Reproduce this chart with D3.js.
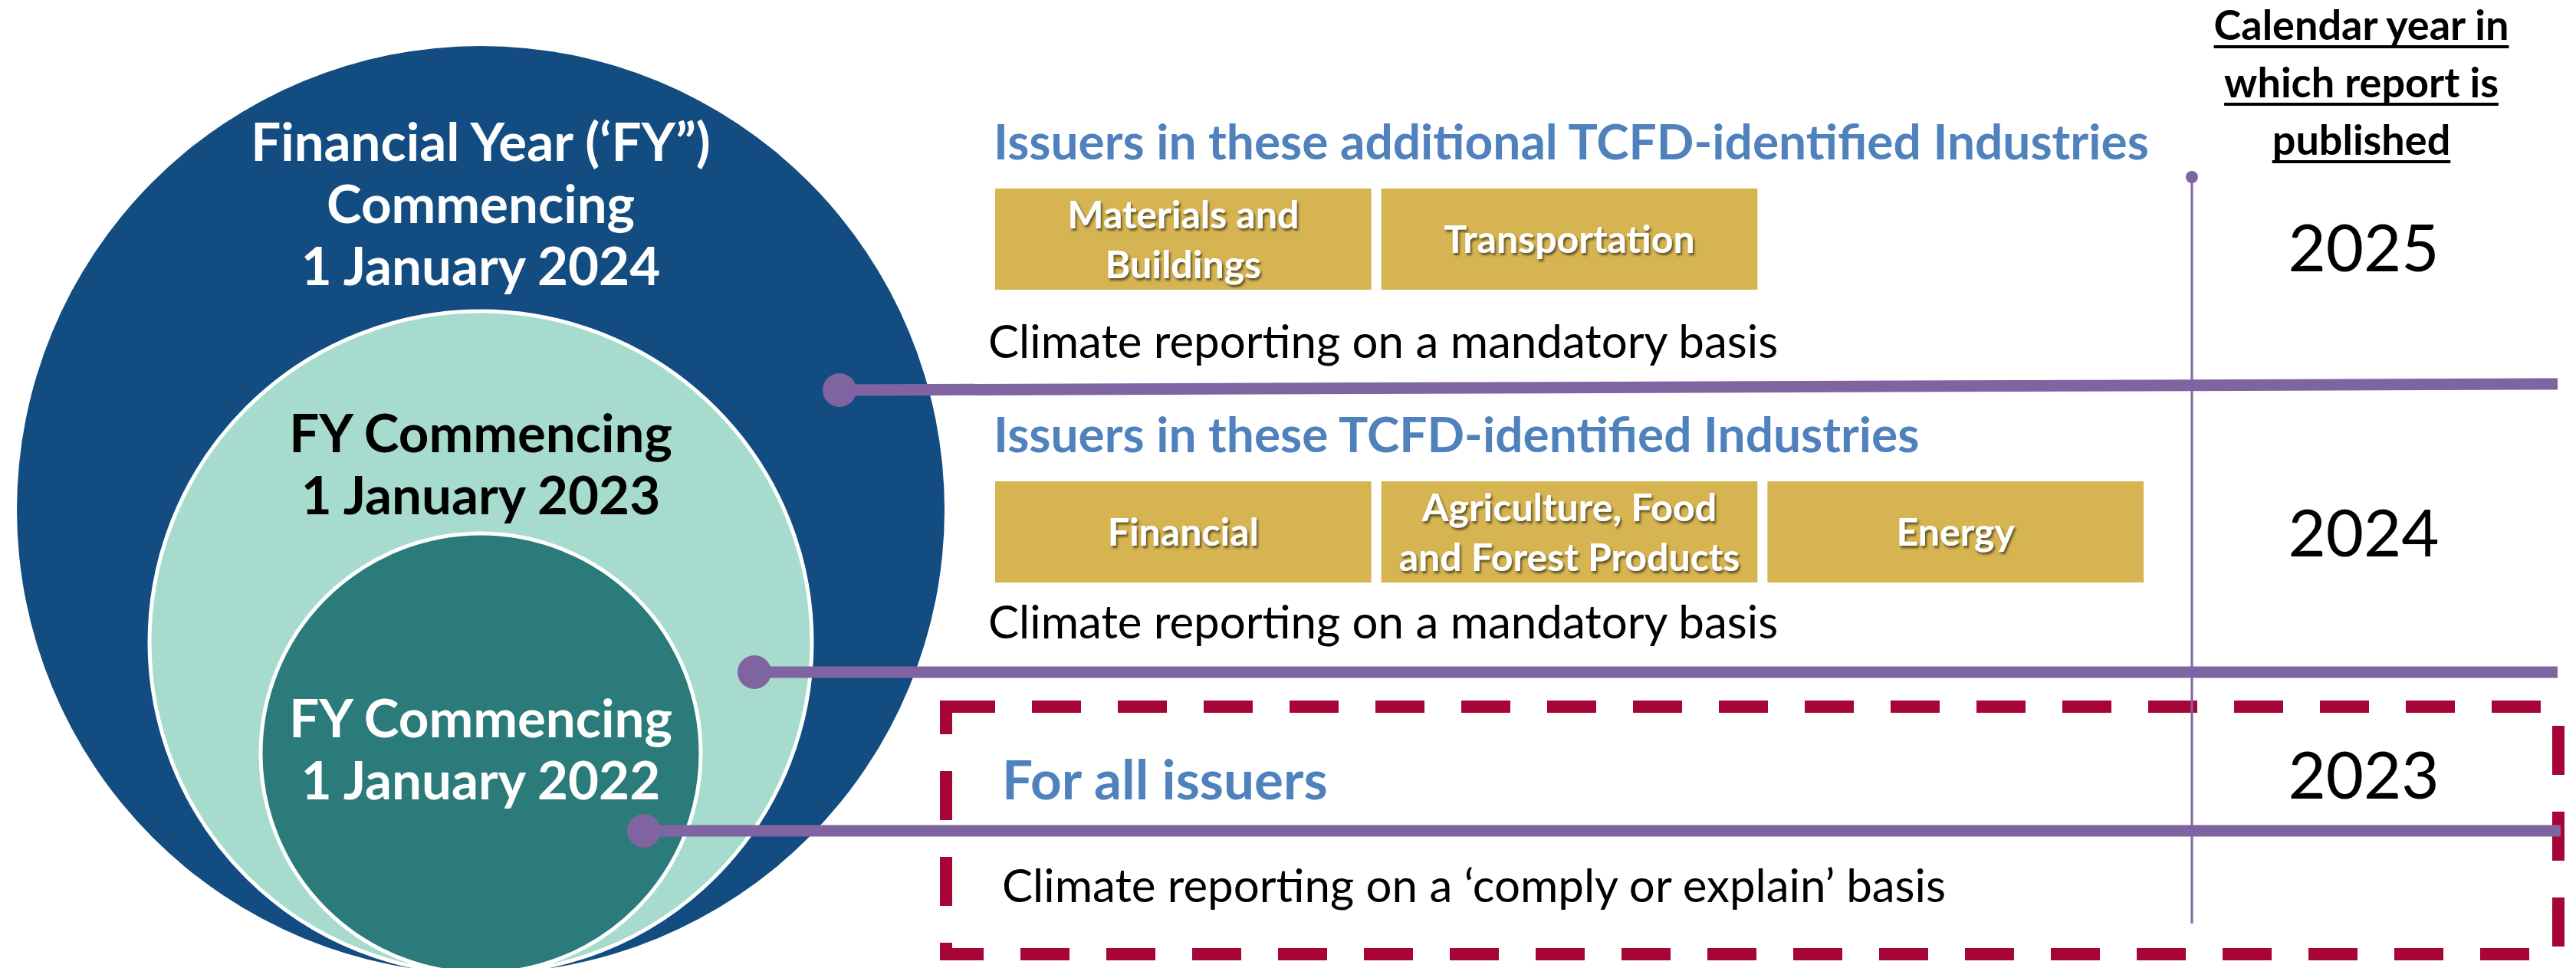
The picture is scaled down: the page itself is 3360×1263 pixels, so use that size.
<!DOCTYPE html>
<html>
<head>
<meta charset="utf-8">
<script src="https://cdn.jsdelivr.net/npm/d3@7"></script>
<style>
  html, body { margin: 0; padding: 0; background: #fff; }
  svg { display: block; }
</style>
</head>
<body>
<script>
// chart data
var fyTitles = [["Financial Year (‘FY”)", "Commencing"], ["FY Commencing"], ["FY Commencing"]];
var fyStart = ["1 January 2024", "1 January 2023", "1 January 2022"];
var reportYears = ["2025", "2024", "2023"];
var scopeHeadings = [
    "Issuers in these additional TCFD-identified Industries",
    "Issuers in these TCFD-identified Industries",
    "For all issuers"
];
var industries = [
    [["Materials and", "Buildings"], ["Transportation"]],
    [["Financial"], ["Agriculture, Food", "and Forest Products"], ["Energy"]],
    []
];
var reportingBasis = [
    "Climate reporting on a mandatory basis",
    "Climate reporting on a mandatory basis",
    "Climate reporting on a ‘comply or explain’ basis"
];
var yearHeader = ["Calendar year in", "which report is", "published"];

// layout
var W = 3360, H = 1263;
var font = "Lato, 'Open Sans', sans-serif";
var circleFill = ["#124C81", "#A7DBCE", "#2A7B79"];
var circleText = ["#ffffff", "#000000", "#ffffff"];
var rScale = d3.scaleOrdinal().domain([0, 1, 2]).range([605, 432, 287]);
var cx = 627, bottom = 1270;
var circleTextTop = [210, 590, 962];
var lineGap = 81;

var rows = [
    { head: 208, headX: 1296, headSize: 64, box: 246, basis: 467, basisX: 1289, dot: [1095, 509], end: [3336, 501], year: 354 },
    { head: 590, headX: 1296, headSize: 64, box: 628, basis: 833, basisX: 1289, dot: [984, 877], end: [3336, 877], year: 726 },
    { head: 1043, headX: 1307, headSize: 71, box: null, basis: 1177, basisX: 1307, dot: [840, 1084], end: [3340, 1084], year: 1042 }
];
var xBox = d3.scaleBand().domain([0, 1, 2]).range([1298, 2796]).paddingInner(0.026);
var boxH = 132;

var purple = "#8064A2";

var svg = d3.select("body").append("svg")
    .attr("width", W)
    .attr("height", H);

var defs = svg.append("defs");
var shadow = defs.append("filter").attr("id", "shadow")
    .attr("x", "-10%").attr("y", "-20%").attr("width", "120%").attr("height", "140%");
shadow.append("feDropShadow")
    .attr("dx", 2).attr("dy", 3).attr("stdDeviation", 1.5)
    .attr("flood-color", "#000").attr("flood-opacity", 0.55);

// nested circles
var tiers = svg.append("g").selectAll("g")
    .data(fyStart)
    .enter().append("g");

tiers.append("circle")
    .attr("cx", cx)
    .attr("cy", function(d, i) { return bottom - rScale(i); })
    .attr("r", function(d, i) { return rScale(i); })
    .attr("fill", function(d, i) { return circleFill[i]; })
    .attr("stroke", function(d, i) { return i === 0 ? "none" : "#fff"; })
    .attr("stroke-width", 5);

tiers.each(function(d, i) {
    var lines = fyTitles[i].concat([d]);
    d3.select(this).selectAll("text")
        .data(lines)
        .enter().append("text")
        .attr("x", cx)
        .attr("y", function(t, j) { return circleTextTop[i] + j * lineGap; })
        .attr("text-anchor", "middle")
        .attr("font-family", font)
        .attr("font-weight", 700)
        .attr("font-size", 69)
        .attr("fill", circleText[i])
        .text(function(t) { return t; });
});

// dashed box round the 'comply or explain' row
svg.append("rect")
    .attr("x", 1234)
    .attr("y", 922)
    .attr("width", 2103)
    .attr("height", 323)
    .attr("fill", "none")
    .attr("stroke", "#A80537")
    .attr("stroke-width", 16)
    .attr("stroke-dasharray", "64 48");

// vertical divider
svg.append("line")
    .attr("x1", 2859).attr("x2", 2859)
    .attr("y1", 231).attr("y2", 1205)
    .attr("stroke", purple)
    .attr("stroke-width", 3);
svg.append("circle")
    .attr("cx", 2859).attr("cy", 231).attr("r", 8)
    .attr("fill", purple);

// connectors
var line = d3.line();
var conn = svg.append("g").selectAll("g")
    .data(rows)
    .enter().append("g");
conn.append("path")
    .attr("d", function(r) { return line([r.dot, r.end]); })
    .attr("stroke", purple)
    .attr("stroke-width", 15)
    .attr("fill", "none");
conn.append("circle")
    .attr("cx", function(r) { return r.dot[0]; })
    .attr("cy", function(r) { return r.dot[1]; })
    .attr("r", 22)
    .attr("fill", purple);

// headings
svg.append("g").selectAll("text")
    .data(scopeHeadings)
    .enter().append("text")
    .attr("x", function(d, i) { return rows[i].headX; })
    .attr("y", function(d, i) { return rows[i].head; })
    .attr("font-family", font)
    .attr("font-weight", 700)
    .attr("font-size", function(d, i) { return rows[i].headSize; })
    .attr("fill", "#4F81BD")
    .text(function(d) { return d; });

// industry boxes
industries.forEach(function(list, i) {
    if (!list.length) return;
    var g = svg.append("g");
    var cells = g.selectAll("g")
        .data(list)
        .enter().append("g");
    cells.append("rect")
        .attr("x", function(d, j) { return xBox(j); })
        .attr("y", rows[i].box)
        .attr("width", xBox.bandwidth())
        .attr("height", boxH)
        .attr("fill", "#D5B451");
    cells.each(function(d, j) {
        var mid = rows[i].box + boxH / 2;
        d3.select(this).selectAll("text")
            .data(d)
            .enter().append("text")
            .attr("x", xBox(j) + xBox.bandwidth() / 2)
            .attr("y", function(t, k) { return mid + 18 + (k - (d.length - 1) / 2) * 65; })
            .attr("text-anchor", "middle")
            .attr("font-family", font)
            .attr("font-weight", 700)
            .attr("font-size", 50)
            .attr("fill", "#fff")
            .attr("filter", "url(#shadow)")
            .text(function(t) { return t; });
    });
});

// reporting basis
svg.append("g").selectAll("text")
    .data(reportingBasis)
    .enter().append("text")
    .attr("x", function(d, i) { return rows[i].basisX; })
    .attr("y", function(d, i) { return rows[i].basis; })
    .attr("font-family", font)
    .attr("font-size", 60)
    .attr("fill", "#000")
    .text(function(d) { return d; });

// report years
svg.append("g").selectAll("text")
    .data(reportYears)
    .enter().append("text")
    .attr("x", 3083)
    .attr("y", function(d, i) { return rows[i].year; })
    .attr("text-anchor", "middle")
    .attr("font-family", font)
    .attr("font-size", 85)
    .attr("fill", "#000")
    .text(function(d) { return d; });

// column header, underlined
var head = svg.append("g").selectAll("g")
    .data(yearHeader)
    .enter().append("g");
head.append("text")
    .attr("x", 3080)
    .attr("y", function(d, i) { return 52 + i * 75; })
    .attr("text-anchor", "middle")
    .attr("font-family", font)
    .attr("font-weight", 700)
    .attr("font-size", 54)
    .attr("fill", "#000")
    .text(function(d) { return d; });
head.each(function(d, i) {
    var w = d3.select(this).select("text").node().getComputedTextLength();
    d3.select(this).append("line")
        .attr("x1", 3080 - w / 2).attr("x2", 3080 + w / 2)
        .attr("y1", 61 + i * 75).attr("y2", 61 + i * 75)
        .attr("stroke", "#000")
        .attr("stroke-width", 4);
});
</script>
</body>
</html>
